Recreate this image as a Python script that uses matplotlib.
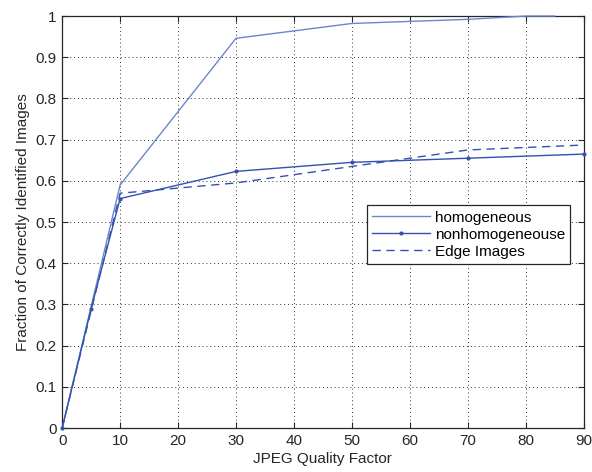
import matplotlib
matplotlib.use('Agg')
import matplotlib.pyplot as plt
from matplotlib.ticker import FuncFormatter

# data
quality = [0, 10, 30, 50, 70, 80, 85]
homogeneous = [0.0, 0.59, 0.946, 0.982, 0.992, 1.0, 1.0]

quality_nh = [0, 5, 10, 30, 50, 70, 90]
nonhomogeneous = [0.0, 0.29, 0.557, 0.623, 0.645, 0.655, 0.665]

quality_edge = [0, 10, 30, 50, 70, 90]
edge_images = [0.0, 0.57, 0.595, 0.635, 0.675, 0.687]

x_ticks = list(range(0, 91, 10))
y_ticks = [i / 10 for i in range(11)]

plt.rcParams['font.family'] = ['Liberation Sans', 'DejaVu Sans']
plt.rcParams['font.size'] = 11

fig = plt.figure(figsize=(5.92, 4.72), dpi=100)
ax = fig.add_axes([0.105, 0.093, 0.881, 0.873])

ax.plot(quality, homogeneous, color='#6a86cc', lw=1.0, label='homogeneous',
        clip_on=False, zorder=5)
ax.plot(quality_nh, nonhomogeneous, color='#3352ae', lw=1.0, marker='.', ms=4,
        label='nonhomogeneouse', clip_on=False, zorder=5)
ax.plot(quality_edge, edge_images, color='#3352ae', lw=1.0, ls=(0, (6, 4)),
        label='Edge Images')

ax.set_xlim(0, 90)
ax.set_ylim(0, 1)
ax.set_xticks(x_ticks)
ax.set_yticks(y_ticks)
ax.yaxis.set_major_formatter(FuncFormatter(lambda v, p: f"{v:g}"))
ax.tick_params(direction='in', top=True, right=True, length=4, width=0.8,
               colors='#262626', labelcolor='#262626', pad=4)
ax.grid(True, color='#333333', ls=(0, (1, 3)), lw=0.7)
for s in ax.spines.values():
    s.set_color('#262626')
    s.set_linewidth(0.9)

ax.set_xlabel("JPEG Quality Factor", color='#262626', labelpad=3)
ax.set_ylabel("Fraction of Correctly Identified Images", color='#262626', labelpad=4)

leg = ax.legend(loc='lower left', bbox_to_anchor=(0.584, 0.398, 0.389, 0.168),
                mode='expand', fancybox=False, framealpha=1, edgecolor='#262626',
                handlelength=3.8, borderaxespad=0, labelspacing=0.2,
                borderpad=0.35, handletextpad=0.35)
leg.get_frame().set_linewidth(0.9)
leg.set_zorder(10)

plt.savefig("out.png", dpi=100)
plt.close()
